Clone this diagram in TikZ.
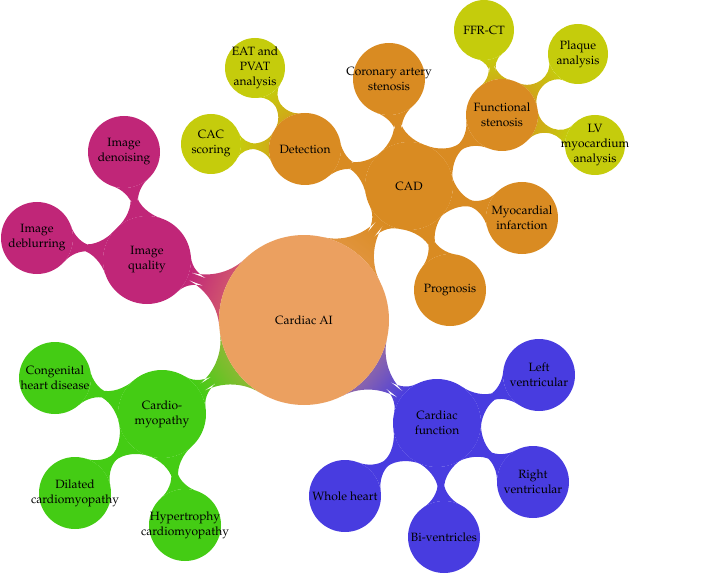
\documentclass[tikz,border=0pt]{standalone}
\usepackage[T1]{fontenc}
\usepackage{mathpazo}
\usetikzlibrary{mindmap,backgrounds}

\definecolor{rootc}{RGB}{235,160,96}
\definecolor{cadc}{RGB}{217,139,34}
\definecolor{limec}{RGB}{197,204,12}
\definecolor{imgc}{RGB}{192,38,120}
\definecolor{cmc}{RGB}{68,204,20}
\definecolor{funcc}{RGB}{72,60,224}

\begin{document}
\begin{tikzpicture}[
    x=1pt,y=1pt,
    font=\fontsize{12}{15}\selectfont,
    blob/.style={circle,inner sep=0pt,outer sep=0pt,
                 label={[align=center,text=black]center:#1}},
    rootblob/.style={blob={#1},minimum size=170pt,fill=rootc},
    topblob/.style={blob={#1},minimum size=88pt},
    subblob/.style={blob={#1},minimum size=72pt},
    leafblob/.style={blob={#1},minimum size=60pt,fill=limec},
    bar/.style 2 args={circle connection bar,
      decoration={start radius=#1pt,end radius=#2pt,amplitude=6pt,angle=25}},
    fat/.style={decoration={amplitude=8pt,angle=30}},
    grad/.style n args={3}{bottom color=#1,top color=#2,shading angle=#3}
  ]
    \useasboundingbox (0,0) rectangle (720,574);

    \node[rootblob={Cardiac AI}] (root) at (304,254) {};

    \node[topblob={CAD},fill=cadc] (cad) at (409,388) {};
    \node[subblob={Detection},fill=cadc] (detect) at (305,425) {};
    \node[leafblob={CAC\\scoring}] (cac) at (211,430) {};
    \node[leafblob={EAT and\\PVAT\\analysis}] (eat) at (255,506) {};
    \node[subblob={Coronary artery\\stenosis},fill=cadc] (coro) at (389,495) {};
    \node[subblob={Functional\\stenosis},fill=cadc] (funcst) at (502,459) {};
    \node[leafblob={FFR-CT}] (ffr) at (484,544) {};
    \node[leafblob={Plaque\\analysis}] (plaque) at (578,520) {};
    \node[leafblob={LV\\myocardium\\analysis}] (lvmyo) at (595,429) {};
    \node[subblob={Myocardial\\infarction},fill=cadc] (myo) at (522,356) {};
    \node[subblob={Prognosis},fill=cadc] (prog) at (450,284) {};

    \node[topblob={Image\\quality},fill=imgc] (imgq) at (147,314) {};
    \node[subblob={Image\\denoising},fill=imgc] (denoise) at (124,422) {};
    \node[subblob={Image\\deblurring},fill=imgc] (deblur) at (37,336) {};

    \node[topblob={Cardio-\\myopathy},fill=cmc] (cm) at (162,160) {};
    \node[subblob={Congenital\\heart disease},fill=cmc] (congen) at (55,196) {};
    \node[subblob={Dilated\\cardiomyopathy},fill=cmc] (dilated) at (75,81) {};
    \node[subblob={Hypertrophy\\cardiomyopathy},fill=cmc] (hyper) at (185,49) {};

    \node[topblob={Cardiac\\function},fill=funcc] (func) at (437,151) {};
    \node[subblob={Left\\ventricular},fill=funcc] (leftv) at (539,199) {};
    \node[subblob={Right\\ventricular},fill=funcc] (rightv) at (533,92) {};
    \node[subblob={Bi-ventricles},fill=funcc] (biv) at (444,37) {};
    \node[subblob={Whole heart},fill=funcc] (whole) at (345,78) {};

    \begin{scope}[on background layer]
      \path[bar={85}{44},grad={rootc}{cadc}{-38}] (root) to (cad);
      \path[bar={85}{44},grad={rootc}{imgc}{69}] (root) to (imgq);
      \path[bar={85}{44},grad={rootc}{cmc}{124}] (root) to (cm);
      \path[bar={85}{44},grad={rootc}{funcc}{-128}] (root) to (func);

      \path[bar={44}{36},fat,fill=cadc] (cad) to (detect);
      \path[bar={44}{36},fat,fill=cadc] (cad) to (coro);
      \path[bar={44}{36},fat,fill=cadc] (cad) to (funcst);
      \path[bar={44}{36},fat,fill=cadc] (cad) to (myo);
      \path[bar={44}{36},fat,fill=cadc] (cad) to (prog);
      \path[bar={36}{30},grad={cadc}{limec}{87}] (detect) to (cac);
      \path[bar={36}{30},grad={cadc}{limec}{32}] (detect) to (eat);
      \path[bar={36}{30},grad={cadc}{limec}{12}] (funcst) to (ffr);
      \path[bar={36}{30},grad={cadc}{limec}{-51}] (funcst) to (plaque);
      \path[bar={36}{30},grad={cadc}{limec}{-108}] (funcst) to (lvmyo);

      \path[bar={44}{36},fat,fill=imgc] (imgq) to (denoise);
      \path[bar={44}{36},fat,fill=imgc] (imgq) to (deblur);

      \path[bar={44}{36},fat,fill=cmc] (cm) to (congen);
      \path[bar={44}{36},fat,fill=cmc] (cm) to (dilated);
      \path[bar={44}{36},fat,fill=cmc] (cm) to (hyper);

      \path[bar={44}{36},fat,fill=funcc] (func) to (leftv);
      \path[bar={44}{36},fat,fill=funcc] (func) to (rightv);
      \path[bar={44}{36},fat,fill=funcc] (func) to (biv);
      \path[bar={44}{36},fat,fill=funcc] (func) to (whole);
    \end{scope}
\end{tikzpicture}
\end{document}
